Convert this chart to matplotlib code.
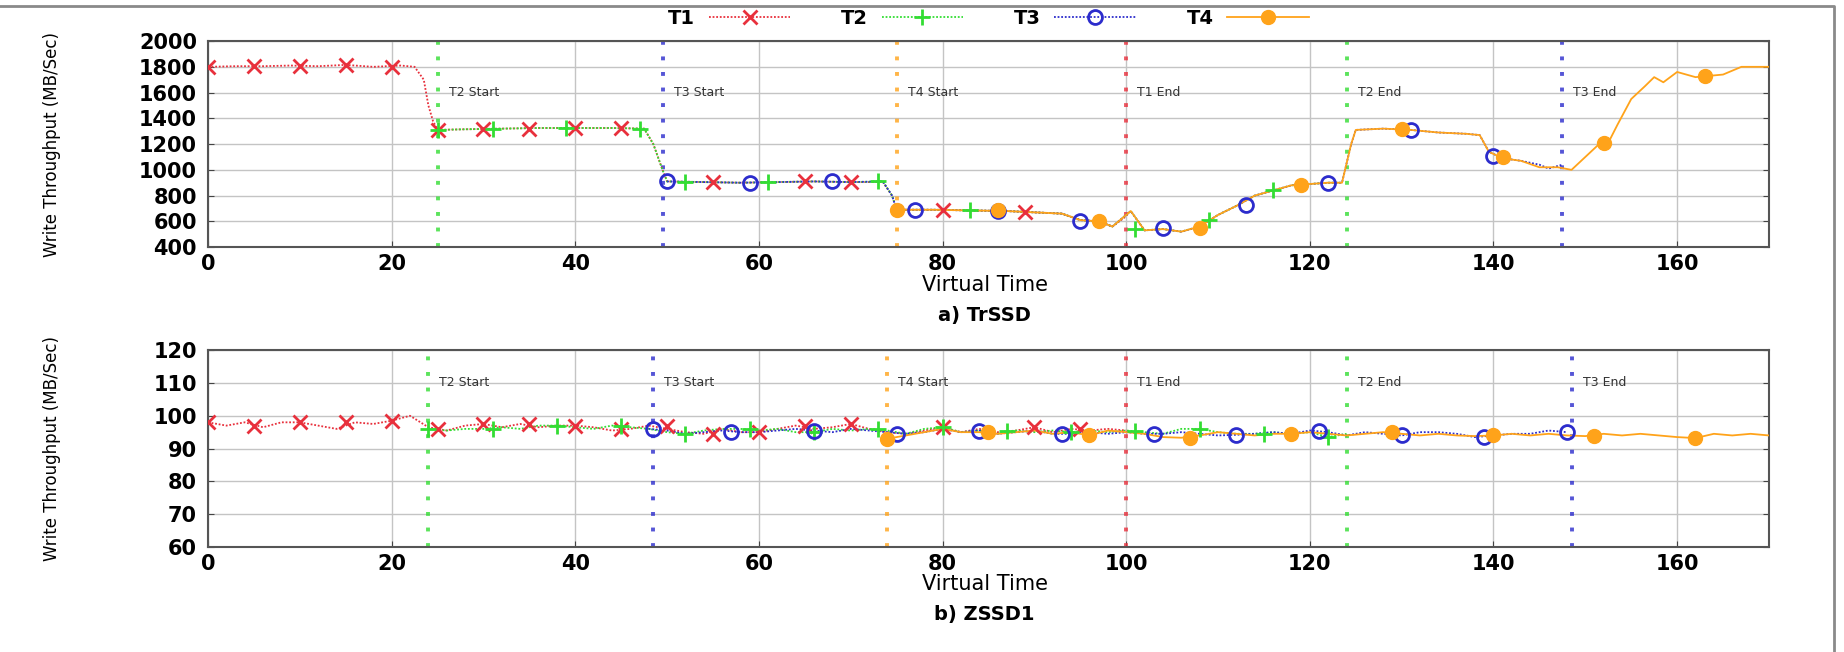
import matplotlib
matplotlib.use('Agg')
import matplotlib.pyplot as plt
from matplotlib.lines import Line2D


##### data: a) TrSSD #####
a_t1_x = [0, 3, 6, 9, 12, 15, 18, 21, 22.5, 23.5, 24, 24.5, 25, 28, 32, 36, 40, 44, 47.5, 48.5, 49.5, 50,
          54, 58, 62, 66, 70, 73.5, 74.5, 75, 79, 83, 87, 90, 93, 95, 97, 98.5, 100]
a_t1_y = [1800, 1805, 1805, 1810, 1805, 1815, 1800, 1810, 1800, 1700, 1500, 1380, 1310, 1315, 1320, 1325, 1325,
          1325, 1320, 1200, 1000, 910, 905, 900, 905, 910, 905, 905, 800, 690, 690, 685, 680, 670, 660, 610,
          600, 560, 640]
a_t1_mx = [0, 5, 10, 15, 20, 25, 30, 35, 40, 45, 55, 65, 70, 80, 89]
a_t1_my = [1800, 1805, 1805, 1812, 1800, 1310, 1315, 1315, 1322, 1322, 902, 910, 905, 688, 672]

a_t2_x = [25, 28, 32, 36, 40, 44, 47.5, 48.5, 49.5, 50, 54, 58, 62, 66, 70, 73.5, 74.5, 75, 79, 83, 87, 90, 93,
          95, 97, 98.5, 100.5, 102, 104, 106, 108, 110, 112, 114, 116, 118, 120, 122, 123.5]
a_t2_y = [1310, 1315, 1320, 1325, 1325, 1325, 1320, 1200, 1000, 910, 905, 900, 905, 910, 905, 910, 800, 690,
          690, 685, 680, 670, 660, 610, 600, 560, 680, 530, 540, 520, 560, 650, 720, 800, 840, 880, 890, 900, 900]
a_t2_mx = [25, 31, 39, 47, 52, 61, 73, 83, 101, 109, 116]
a_t2_my = [1310, 1320, 1325, 1320, 908, 905, 910, 686, 540, 610, 845]

a_t3_x = [50, 54, 58, 62, 66, 70, 73.5, 74.5, 75, 79, 83, 87, 90, 93, 95, 97, 98.5, 100.5, 102, 104, 106, 108,
          110, 112, 114, 116, 118, 120, 122, 123.5, 124.5, 125, 128, 131, 134, 137, 138.5, 139.5, 141, 143,
          145, 146, 147.5]
a_t3_y = [910, 905, 900, 905, 910, 905, 910, 800, 690, 690, 685, 680, 670, 660, 610, 600, 560, 680, 530, 540,
          520, 560, 650, 720, 800, 840, 880, 890, 900, 900, 1200, 1310, 1320, 1310, 1290, 1280, 1270, 1140,
          1090, 1070, 1040, 1010, 1040]
a_t3_mx = [50, 59, 68, 77, 86, 95, 104, 113, 122, 131, 140]
a_t3_my = [910, 900, 910, 690, 682, 605, 545, 725, 900, 1310, 1110]

a_t4_x = [75, 79, 83, 87, 90, 93, 95, 97, 98.5, 100.5, 102, 104, 106, 108, 110, 112, 114, 116, 118, 120, 122,
          123.5, 124.5, 125, 128, 131, 134, 137, 138.5, 139.5, 141, 143, 145, 147, 148.5, 150, 151.5, 152.5,
          153.5, 155, 156.5, 157.5, 158.5, 160, 162, 165, 167, 170]
a_t4_y = [690, 690, 685, 680, 670, 660, 610, 600, 560, 680, 530, 540, 520, 560, 650, 720, 800, 840, 880, 890,
          900, 900, 1200, 1310, 1320, 1310, 1290, 1280, 1270, 1140, 1090, 1070, 1020, 1020, 1000, 1100, 1200,
          1210, 1350, 1550, 1650, 1720, 1680, 1760, 1720, 1740, 1800, 1800]
a_t4_mx = [75, 86, 97, 108, 119, 130, 141, 152, 163]
a_t4_my = [690, 685, 600, 545, 882, 1315, 1100, 1205, 1730]

a_events_x = [25, 49.5, 75, 100, 124, 147.5]


##### data: b) ZSSD1 #####
b_t1_x = list(range(0, 101, 2))
b_t1_y = [98, 97, 98, 96.5, 98, 98, 97, 96, 98, 97.5, 98.5, 100, 96.5, 95.5, 97, 97.5, 96.5, 97.5, 96.5, 97,
          97, 96.5, 95.5, 96, 97, 96, 95, 94.5, 96, 95, 95, 96, 97, 96, 96.5, 97.5, 96, 95, 94.5, 95.5,
          96.5, 95, 96, 95, 95.5, 96.5, 95, 96, 95.5, 96, 95.5]
b_t1_mx = [0, 5, 10, 15, 20, 25, 30, 35, 40, 45, 50, 55, 60, 65, 70, 80, 90, 95]
b_t1_my = [98, 97, 98, 98, 98.5, 96, 97.5, 97.5, 97, 96, 97, 94.5, 95, 97, 97.5, 96.5, 96.5, 96]

b_t2_x = list(range(24, 125, 2))
b_t2_y = [96, 95.5, 96, 96, 96.5, 96, 97, 97, 96.5, 96, 97, 96.5, 96, 95, 94.5, 95.5, 96, 96, 95.5, 96, 95, 95,
          96, 95.5, 96, 95.5, 94.5, 96, 96.5, 95, 95.5, 94.5, 95.5, 95, 95.5, 95, 95.5, 95, 95.5, 95, 94.5,
          96, 96, 95, 94.5, 94.5, 95, 94.5, 95, 93.5, 94.5]
b_t2_mx = [24, 31, 38, 45, 52, 59, 66, 73, 80, 87, 94, 101, 108, 115, 122]
b_t2_my = [96, 96, 97, 97, 94.5, 96, 95, 96, 96.5, 95.5, 95, 95.5, 96, 94.5, 93.5]

b_t3_x = list(range(48, 149, 2))
b_t3_y = [96, 95.5, 94.5, 95, 95.5, 95, 95, 95.5, 96, 95.5, 95, 96, 95.5, 95, 94.5, 95, 96, 95, 95.5, 94.5, 95,
          95.5, 94.5, 94.5, 95, 94.5, 95, 94.5, 94.5, 95, 94.5, 94, 94.2, 94.5, 95, 94.5, 95.5, 95, 94, 95,
          94.5, 94, 95, 95, 94.5, 93.5, 94, 94.5, 94.5, 95.5, 95]
b_t3_mx = [48.5, 57, 66, 75, 84, 93, 103, 112, 121, 130, 139, 148]
b_t3_my = [96, 95, 95.5, 94.5, 95.5, 94.5, 94.5, 94.2, 95.5, 94, 93.5, 95]

b_t4_x = list(range(74, 171, 2))
b_t4_y = [93, 94, 95, 96, 95, 95, 94.5, 95, 95.5, 94.5, 95, 94, 95.5, 95, 94.5, 93.5, 93.3, 94, 95, 94.5, 94,
          94.5, 94.5, 95, 94.5, 94, 94.5, 95, 94.5, 94, 94.5, 94, 93.8, 94, 94.5, 94, 94.5, 94, 93.8, 94.5,
          94, 94.5, 94, 93.5, 93.2, 94.5, 94, 94.5, 94]
b_t4_mx = [74, 85, 96, 107, 118, 129, 140, 151, 162]
b_t4_my = [93, 95, 94, 93.3, 94.5, 95, 94, 93.8, 93.2]

b_events_x = [24, 48.5, 74, 100, 124, 148.5]

event_labels = ['T2 Start', 'T3 Start', 'T4 Start', 'T1 End', 'T2 End', 'T3 End']
series_names = ['T1', 'T2', 'T3', 'T4']


##### styles #####
RED, GREEN, BLUE, ORANGE = '#e8303c', '#33dd33', '#2c2ccc', '#ffa31a'
event_colors = [GREEN, BLUE, ORANGE, RED, GREEN, BLUE]
series_styles = [
    dict(color=RED, ls=(0, (1, 1)), marker='x', ms=10, mew=2, mfc=RED),
    dict(color=GREEN, ls=(0, (1, 1)), marker='+', ms=11, mew=2, mfc=GREEN),
    dict(color=BLUE, ls=(0, (1, 1)), marker='o', ms=10, mew=2, mfc='none'),
    dict(color=ORANGE, ls='-', marker='o', ms=10, mew=1, mfc=ORANGE),
]

plt.rcParams['font.family'] = ['DejaVu Sans']

fig = plt.figure(figsize=(18.44, 6.52), dpi=100)
# frame lines along the top and right edge of the picture
fig.lines.append(Line2D([0, 0.9945, 0.9945], [0.991, 0.991, 0.0], transform=fig.transFigure,
                        color='#8a8a8a', lw=2))


def draw_panel(ax, lines, markers, events_x, ylim, yticks, text_y):
    for i in range(4):
        st = series_styles[i]
        ax.plot(lines[i][0], lines[i][1], color=st['color'], ls=st['ls'], lw=1.3, zorder=3)
        ax.plot(markers[i][0], markers[i][1], ls='none', marker=st['marker'], ms=st['ms'],
                mew=st['mew'], mfc=st['mfc'], mec=st['color'], zorder=4)
    for x, lab, c in zip(events_x, event_labels, event_colors):
        ax.axvline(x, color=c, ls=(0, (1, 3)), lw=2.8, alpha=0.8, zorder=2)
        ax.text(x + 1.2, text_y, lab, fontsize=9, color='#333333', va='center', ha='left')
    ax.set_xlim(0, 170)
    ax.set_ylim(*ylim)
    ax.set_xticks(range(0, 161, 20))
    ax.set_yticks(yticks)
    ax.grid(True, color='#c4c4c4', lw=1.0, zorder=0)
    ax.tick_params(direction='in', length=4, right=True, top=False, labelsize=15,
                   color='#444444')
    ax.tick_params(axis='x', pad=5)
    ax.tick_params(axis='y', pad=8)
    for lab in ax.get_xticklabels() + ax.get_yticklabels():
        lab.set_fontweight('bold')
    for sp in ax.spines.values():
        sp.set_color('#555555')
        sp.set_linewidth(1.5)
    ax.set_ylabel('Write Throughput (MB/Sec)', fontsize=12)
    ax.yaxis.set_label_coords(-0.094, 0.5)


ax1 = fig.add_axes([0.1128, 0.621, 0.8465, 0.316])
draw_panel(ax1,
           [(a_t1_x, a_t1_y), (a_t2_x, a_t2_y), (a_t3_x, a_t3_y), (a_t4_x, a_t4_y)],
           [(a_t1_mx, a_t1_my), (a_t2_mx, a_t2_my), (a_t3_mx, a_t3_my), (a_t4_mx, a_t4_my)],
           a_events_x, (400, 2000), range(400, 2001, 200), 1600)

ax2 = fig.add_axes([0.1128, 0.161, 0.8465, 0.302])
draw_panel(ax2,
           [(b_t1_x, b_t1_y), (b_t2_x, b_t2_y), (b_t3_x, b_t3_y), (b_t4_x, b_t4_y)],
           [(b_t1_mx, b_t1_my), (b_t2_mx, b_t2_my), (b_t3_mx, b_t3_my), (b_t4_mx, b_t4_my)],
           b_events_x, (60, 120), range(60, 121, 10), 110)

fig.text(0.534, 0.563, 'Virtual Time', fontsize=15, ha='center', va='center')
fig.text(0.534, 0.516, 'a) TrSSD', fontsize=14, fontweight='bold', ha='center', va='center')
fig.text(0.534, 0.105, 'Virtual Time', fontsize=15, ha='center', va='center')
fig.text(0.534, 0.058, 'b) ZSSD1', fontsize=14, fontweight='bold', ha='center', va='center')

# legend
handles = [Line2D([], [], color=st['color'], ls=st['ls'], lw=1.3, marker=st['marker'], ms=st['ms'],
                  mew=st['mew'], mfc=st['mfc'], mec=st['color']) for st in series_styles]
leg = fig.legend(handles, series_names, loc='center', bbox_to_anchor=(0.536, 0.972), ncol=4,
                 frameon=False, markerfirst=False, handlelength=4.2, handletextpad=0.7,
                 columnspacing=2.6, prop=dict(weight='bold', size=14))

fig.savefig('out.png', dpi=100)
